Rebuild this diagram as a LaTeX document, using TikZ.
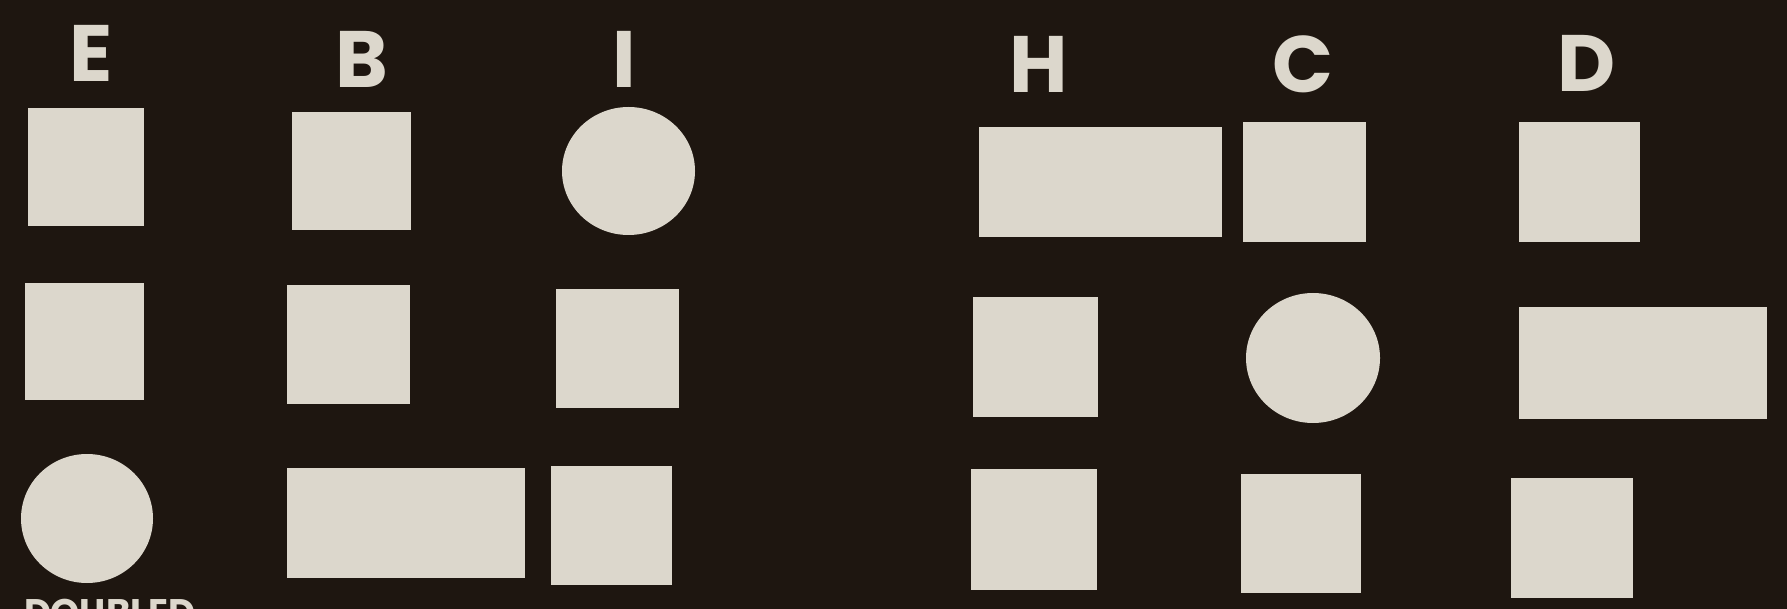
\documentclass[tikz,border=0pt]{standalone}
\usepackage{fontspec}
\newfontfamily\labfont{Poppins}[BoldFont={Poppins Bold}]
\usetikzlibrary{shapes.geometric}
\definecolor{bgdark}{RGB}{30,22,16}
\definecolor{paper}{RGB}{220,215,204}
\tikzset{
  card/.style={rectangle, fill=paper, draw=none, inner sep=0pt, outer sep=0pt},
  disc/.style={ellipse, fill=paper, draw=none, inner sep=0pt, outer sep=0pt},
  lab/.style={text=paper, inner sep=0pt, outer sep=0pt, anchor=base, font=\labfont\bfseries\fontsize{80}{80}\selectfont},
  foot/.style={text=paper, inner sep=0pt, outer sep=0pt, anchor=north west, font=\labfont\bfseries\fontsize{37}{37}\selectfont}
}
\begin{document}
\begin{tikzpicture}[x=1pt,y=-1pt]
\useasboundingbox (0,0) rectangle (1787,609);
\clip (0,0) rectangle (1787,609);
\fill[bgdark] (0,0) rectangle (1787,609);
% column labels
\node[lab] (lE) at (91,82) {E};
\node[lab] (lB) at (362,88) {B};
\node[lab] (lI) at (624,88) {I};
\node[lab] (lH) at (1039,93) {H};
\node[lab] (lC) at (1303,93) {C};
\node[lab] (lD) at (1587,92) {D};
% row 1
\node[card, minimum width=116, minimum height=118] (e1) at (86,167) {};
\node[card, minimum width=119, minimum height=118] (b1) at (351.5,171) {};
\node[disc, minimum width=133, minimum height=128] (i1) at (628.5,171) {};
\node[card, minimum width=243, minimum height=110] (h1) at (1100.5,182) {};
\node[card, minimum width=123, minimum height=120] (c1) at (1304.5,182) {};
\node[card, minimum width=121, minimum height=120] (d1) at (1579.5,182) {};
% row 2
\node[card, minimum width=119, minimum height=117] (e2) at (84.5,341.5) {};
\node[card, minimum width=123, minimum height=119] (b2) at (348.5,344.5) {};
\node[card, minimum width=123, minimum height=119] (i2) at (617.5,348.5) {};
\node[card, minimum width=125, minimum height=120] (h2) at (1035.5,357) {};
\node[disc, minimum width=134, minimum height=130] (c2) at (1313,358) {};
\node[card, minimum width=248, minimum height=112] (d2) at (1643,363) {};
% row 3
\node[disc, minimum width=132, minimum height=129] (e3) at (87,518.5) {};
\node[card, minimum width=238, minimum height=110] (b3) at (406,523) {};
\node[card, minimum width=121, minimum height=119] (i3) at (611.5,525.5) {};
\node[card, minimum width=126, minimum height=121] (h3) at (1034,529.5) {};
\node[card, minimum width=120, minimum height=119] (c3) at (1301,533.5) {};
\node[card, minimum width=122, minimum height=120] (d3) at (1572,538) {};
% caption, cut off by the lower edge as in the reference
\node[foot] (cap) at (24,599) {DOUBLED};
\end{tikzpicture}
\end{document}
